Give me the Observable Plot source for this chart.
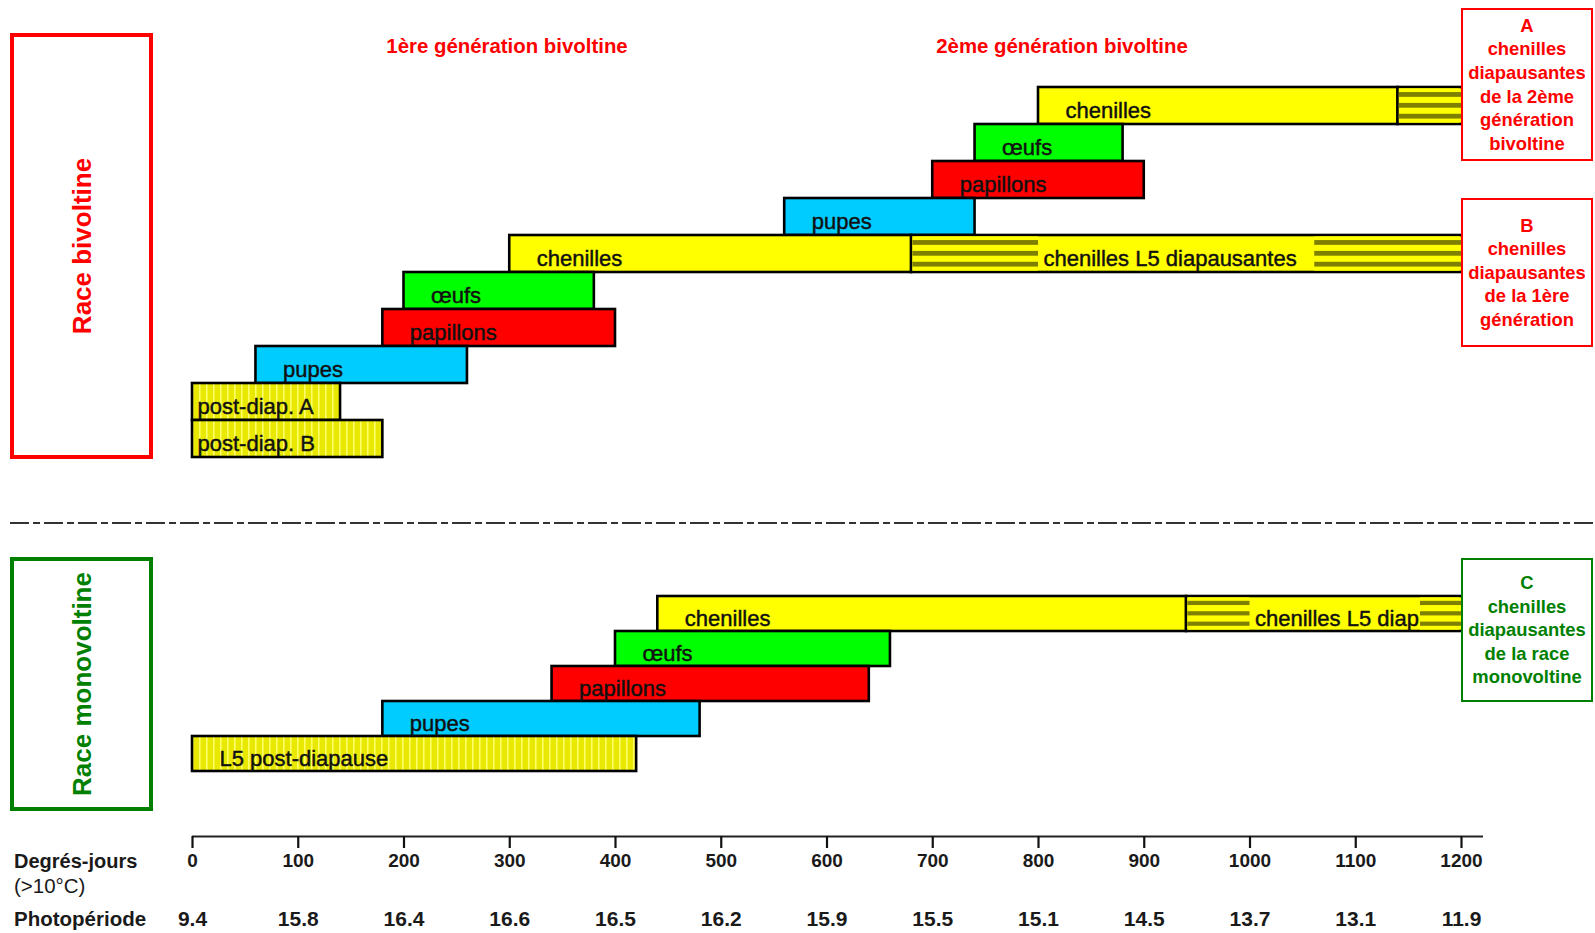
<!DOCTYPE html>
<html><head><meta charset="utf-8">
<script src="https://cdn.jsdelivr.net/npm/d3@7"></script>
<script src="https://cdn.jsdelivr.net/npm/@observablehq/plot@0.6"></script>
<style>
body{margin:0;background:#fff;font-family:'Liberation Sans',Arial,sans-serif;}
#wrap{position:relative;width:1595px;height:933px;overflow:hidden;background:#fff;}
#wrap svg{position:absolute;left:0;top:0;}
.title{position:absolute;transform:translate(-50%,-50%);color:#ff0000;font-weight:bold;font-size:20.4px;white-space:nowrap;}
.race{position:absolute;box-sizing:border-box;border:4px solid;}
.race span{position:absolute;left:50%;top:50%;transform:translate(-50%,-50%) rotate(-90deg);font-weight:bold;font-size:26px;white-space:nowrap;}
.note{position:absolute;box-sizing:border-box;border:2.5px solid;background:#fff;display:flex;align-items:center;justify-content:center;text-align:center;font-weight:bold;font-size:18.4px;line-height:23.6px;}
.lab{position:absolute;transform:translateY(-50%);color:#1a1a1a;white-space:nowrap;}
</style></head><body><div id="wrap"></div>
<script>
// ---------- data ----------
const degreeTicks = [0,100,200,300,400,500,600,700,800,900,1000,1100,1200];
const photoperiod = ["9.4","15.8","16.4","16.6","16.5","16.2","15.9","15.5","15.1","14.5","13.7","13.1","11.9"];

// Race bivoltine (rows top to bottom)
const bivRows   = ["b1","b2","b3","b4","b5","b6","b7","b8","b9","b10"];
const bivLabels = ["chenilles","œufs","papillons","pupes","chenilles","œufs","papillons","pupes","post-diap. A","post-diap. B"];
const bivKinds  = ["chenilles","oeufs","papillons","pupes","chenilles","oeufs","papillons","pupes","postdiapause","postdiapause"];
const bivStart  = [800,740,700,560,300,200,180,60,0,0];
const bivEnd    = [1140,880,900,740,680,380,400,260,140,180];

// diapausing caterpillars (bivoltine)
const bivDiapRows  = ["b1","b5"];
const bivDiapStart = [1140,680];
const bivDiapEnd   = [1200,1200];
const bivDiapLabel = ["","chenilles L5 diapausantes"];
const bivDiapLabelAt = [1200,800];
const bivStripeRows  = ["b1","b5","b5"];
const bivStripeStart = [1140,680,1060];
const bivStripeEnd   = [1200,800,1200];

// Race monovoltine
const monoRows   = ["m1","m2","m3","m4","m5"];
const monoLabels = ["chenilles","œufs","papillons","pupes","L5 post-diapause"];
const monoKinds  = ["chenilles","oeufs","papillons","pupes","postdiapause"];
const monoStart  = [440,400,340,180,0];
const monoEnd    = [940,660,640,480,420];
const monoDiapRows  = ["m1"];
const monoDiapStart = [940];
const monoDiapEnd   = [1200];
const monoDiapLabel = ["chenilles L5 diap."];
const monoDiapLabelAt = [1000];
const monoStripeRows  = ["m1","m1"];
const monoStripeStart = [940,1160];
const monoStripeEnd   = [1000,1200];

// ---------- helpers ----------
const FONT = "'Liberation Sans', Arial, sans-serif";
const X_RANGE = [192, 1461];
const stageColors = {chenilles:"#ffff00", oeufs:"#00ff00", papillons:"#ff0000", pupes:"#00ccff", postdiapause:"url(#vhatch)"};
const zip = (rows, labels, kinds, s, e) => rows.map((r,i)=>({row:r,label:labels[i],kind:kinds[i],start:s[i],end:e[i]}));
const segs = (rows, s, e, labels, at) => rows.map((r,i)=>({row:r,start:s[i],end:e[i],label:labels?labels[i]:"",at:at?at[i]:s[i]}));

function stripeMarks(data, h){
  const period = h*0.29, thick = h*0.14, first = h*0.135;
  const marks = [Plot.barX(data, {x1:"start", x2:"end", y:"row", fill:"#ffff00", insetTop:1.4, insetBottom:1.4, insetLeft:1.3})];
  for (let k=0;k<3;k++){
    const top = first + k*period;
    const bottom = Math.max(1.4, h - top - thick);
    marks.push(Plot.barX(data, {x1:"start", x2:"end", y:"row", fill:"#808000", insetTop:top, insetBottom:bottom, insetLeft:1.3}));
  }
  return marks;
}
function addDefs(svg){
  const defs = d3.select(svg).insert("defs", ":first-child");
  const pat = defs.append("pattern").attr("id","vhatch").attr("patternUnits","userSpaceOnUse").attr("width",7).attr("height",10);
  pat.append("rect").attr("width",7).attr("height",10).attr("fill","#e8e800");
  pat.append("rect").attr("x",3).attr("width",1.6).attr("height",10).attr("fill","#ffff6a");
}
const textStyle = {fill:"#111", stroke:"#111", strokeWidth:0.45};
function ganttPlot(bars, diap, stripes, rows, yRange){
  const h = (yRange[1]-yRange[0])/rows.length;
  const svg = Plot.plot({
    width:1595, height:933, margin:0,
    x:{domain:[0,1200], range:X_RANGE, axis:null},
    y:{type:"band", domain:rows, range:yRange, padding:0, axis:null},
    color:{type:"identity"},
    style:{fontFamily:FONT, fontSize:"22px", background:"transparent", overflow:"visible"},
    marks:[
      Plot.barX(bars, {x1:"start", x2:"end", y:"row", fill:d=>stageColors[d.kind], stroke:"#000", strokeWidth:2.6}),
      Plot.barX(diap, {x1:"start", x2:"end", y:"row", fill:"#ffff00", stroke:"#000", strokeWidth:2.6}),
      Plot.text(bars.filter(d=>d.label.startsWith("post-diap.")), {x:"start", y:"row", text:"label", textAnchor:"start", dx:5, dy:5, ...textStyle}),
      Plot.text(bars.filter(d=>!d.label.startsWith("post-diap.")), {x:"start", y:"row", text:"label", textAnchor:"start", dx:27, dy:5, ...textStyle}),
      Plot.text(diap.filter(d=>d.label), {x:"at", y:"row", text:"label", textAnchor:"start", dx:5, dy:5, ...textStyle}),
      ...stripeMarks(stripes, h)
    ]
  });
  addDefs(svg);
  return svg;
}

const wrap = document.getElementById("wrap");

// bivoltine
wrap.appendChild(ganttPlot(
  zip(bivRows,bivLabels,bivKinds,bivStart,bivEnd),
  segs(bivDiapRows,bivDiapStart,bivDiapEnd,bivDiapLabel,bivDiapLabelAt),
  segs(bivStripeRows,bivStripeStart,bivStripeEnd),
  bivRows, [84.4, 458.8]));

// monovoltine
wrap.appendChild(ganttPlot(
  zip(monoRows,monoLabels,monoKinds,monoStart,monoEnd),
  segs(monoDiapRows,monoDiapStart,monoDiapEnd,monoDiapLabel,monoDiapLabelAt),
  segs(monoStripeRows,monoStripeStart,monoStripeEnd),
  monoRows, [594, 773]));

// axis
wrap.appendChild(Plot.plot({
  width:1595, height:933, marginLeft:192, marginRight:112, marginTop:800, marginBottom:97,
  x:{domain:[0,1200], range:X_RANGE},
  y:{domain:[0,1], axis:null},
  style:{fontFamily:FONT, fontSize:"19px", fontWeight:"bold", color:"#1a1a1a", background:"transparent", overflow:"visible"},
  marks:[
    Plot.ruleY([0], {stroke:"#222", strokeWidth:2}),
    Plot.axisX({ticks:degreeTicks, anchor:"bottom", tickSize:12, tickPadding:5, tickFormat:d=>String(d), strokeWidth:2.2, stroke:"#111", fill:"#1a1a1a", fontSize:19, fontWeight:"bold"}),
    Plot.text(degreeTicks, {x:d=>d, text:(d,i)=>photoperiod[i], frameAnchor:"bottom", dy:89, fontSize:21, fontWeight:"bold", fill:"#1a1a1a"})
  ]
}));

// separator (dash-dot)
const sep = d3.select(wrap).append("svg").attr("width",1595).attr("height",933);
sep.append("line").attr("x1",10).attr("x2",1593).attr("y1",523).attr("y2",523)
  .attr("stroke","#333").attr("stroke-width",2).attr("stroke-dasharray","19,4,7,4");

// HTML annotations
function add(html){ wrap.insertAdjacentHTML("beforeend", html); }
add('<div class="title" style="left:507px;top:46px">1ère génération bivoltine</div>');
add('<div class="title" style="left:1062px;top:46px">2ème génération bivoltine</div>');
add('<div class="race" style="left:10px;top:33px;width:143px;height:426px;border-color:#ff0000"><span style="color:#ff0000">Race bivoltine</span></div>');
add('<div class="race" style="left:10px;top:557px;width:143px;height:254px;border-color:#008000"><span style="color:#008000">Race monovoltine</span></div>');
add('<div class="note" style="left:1461px;top:8px;width:132px;height:153px;border-color:#ff0000;color:#ff0000">A<br>chenilles<br>diapausantes<br>de la 2ème<br>génération<br>bivoltine</div>');
add('<div class="note" style="left:1461px;top:198px;width:132px;height:149px;border-color:#ff0000;color:#ff0000">B<br>chenilles<br>diapausantes<br>de la 1ère<br>génération</div>');
add('<div class="note" style="left:1461px;top:558px;width:132px;height:144px;border-color:#008000;color:#008000">C<br>chenilles<br>diapausantes<br>de la race<br>monovoltine</div>');
add('<div class="lab" style="left:14px;top:861px;font-weight:bold;font-size:20px">Degrés-jours</div>');
add('<div class="lab" style="left:14px;top:886px;font-size:20.5px">(&gt;10°C)</div>');
add('<div class="lab" style="left:14px;top:919px;font-weight:bold;font-size:20.5px">Photopériode</div>');
</script></body></html>
